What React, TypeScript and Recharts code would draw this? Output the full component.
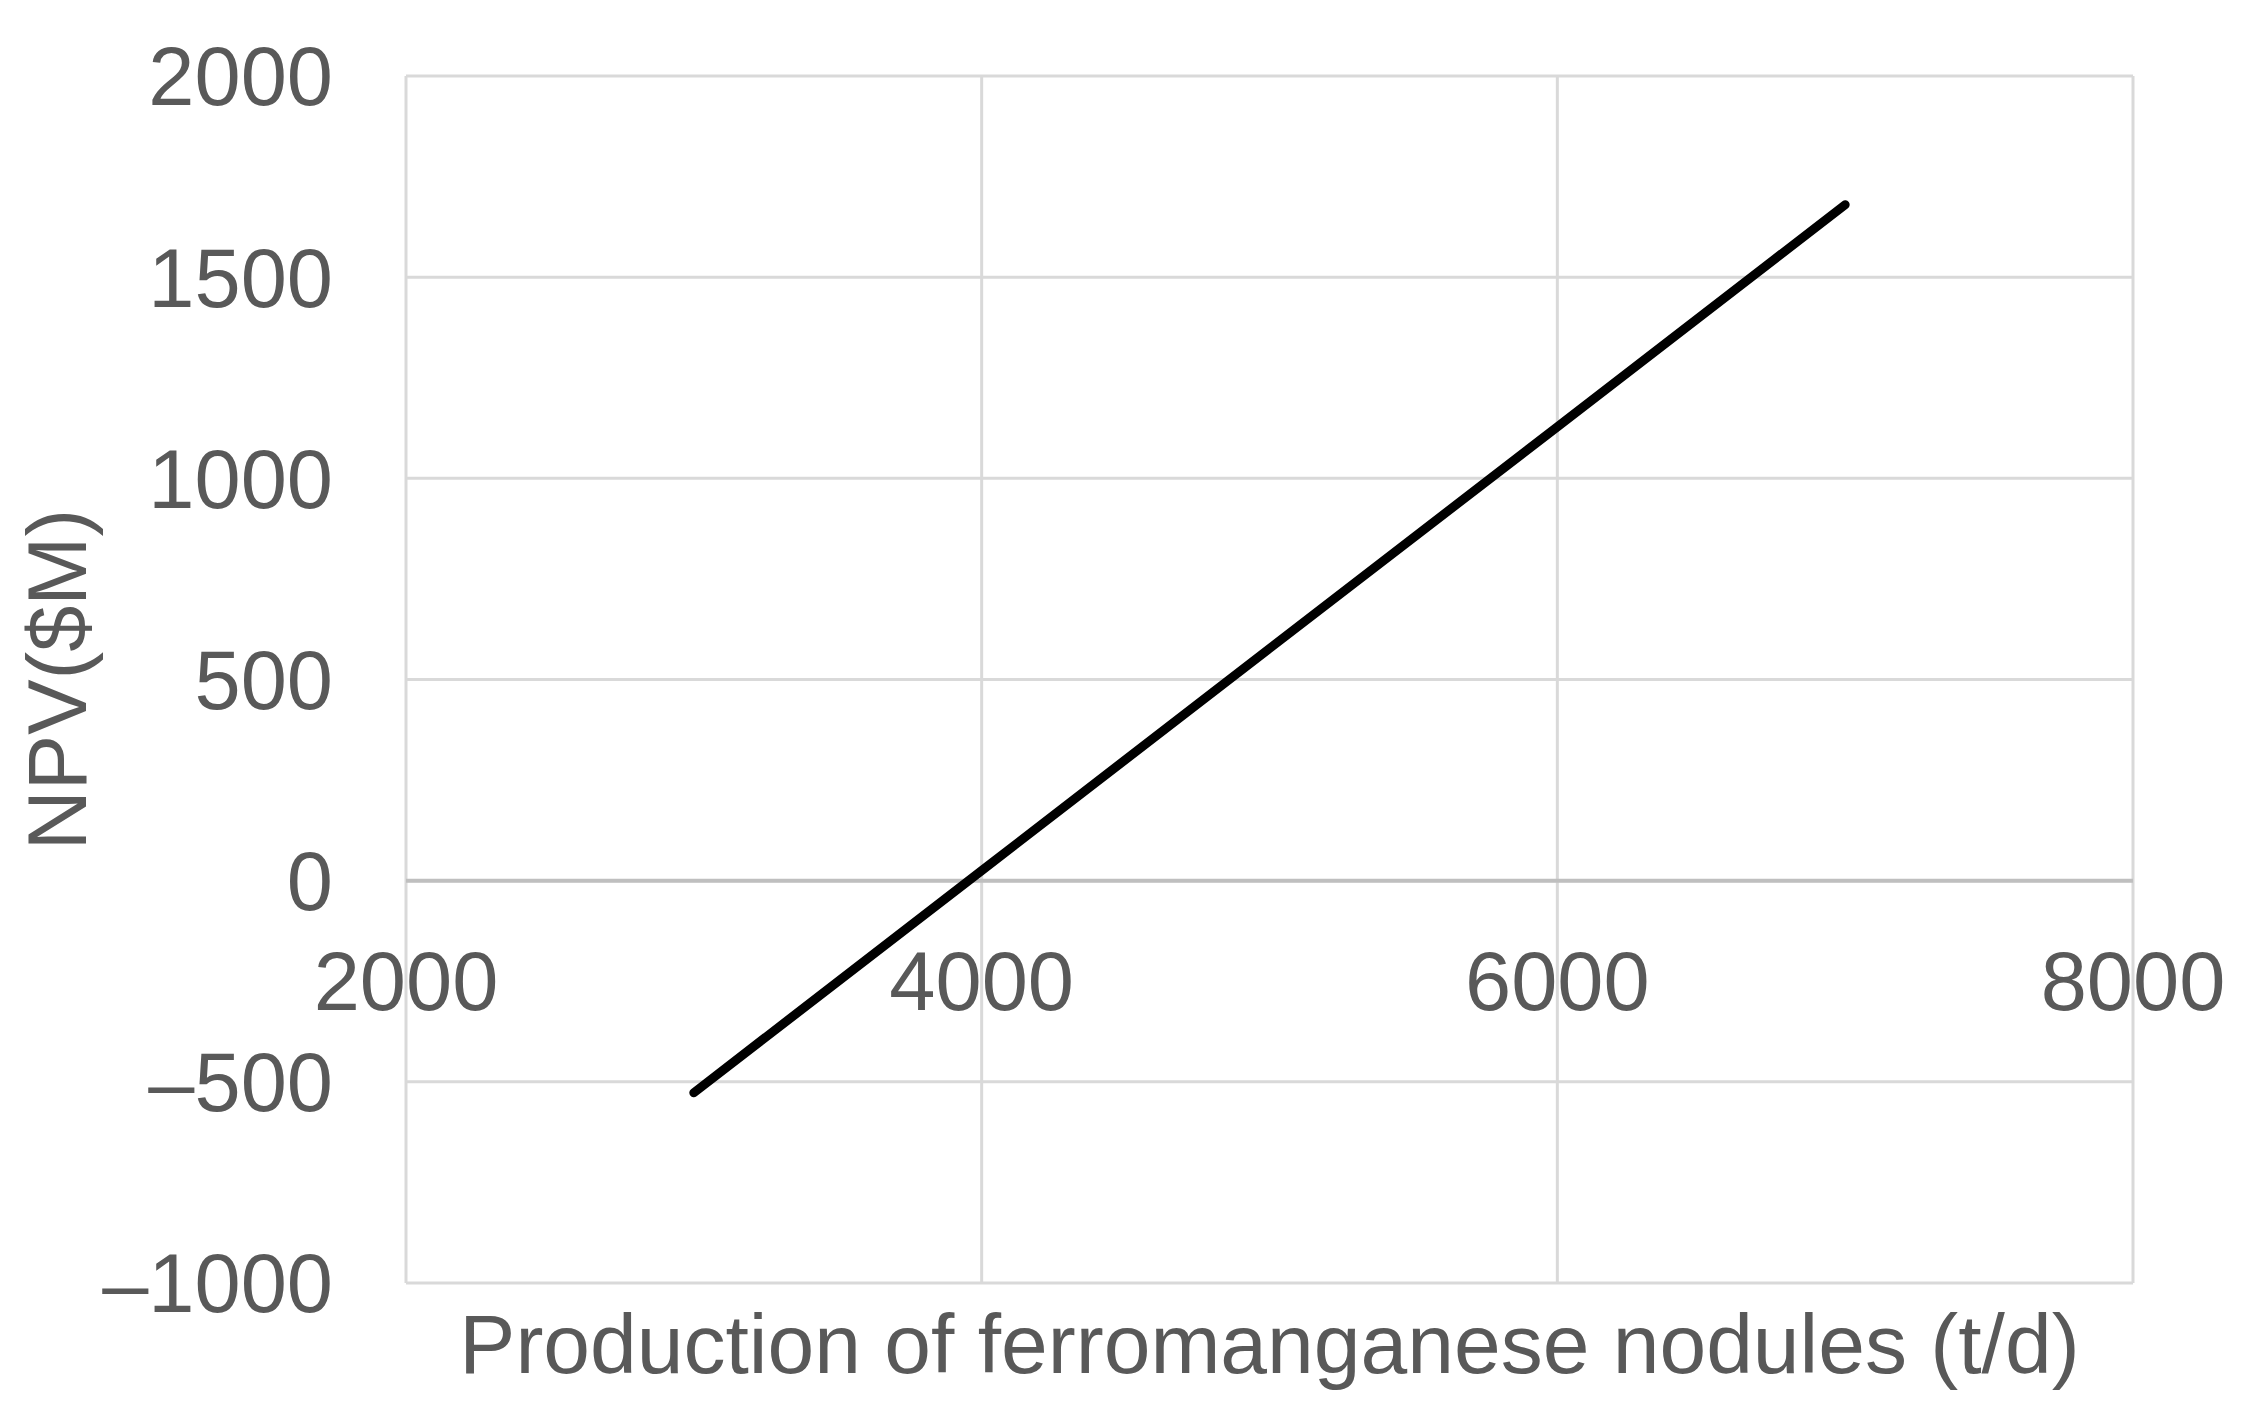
import React from 'react';
import {
  LineChart,
  Line,
  XAxis,
  YAxis,
  CartesianGrid,
  ReferenceLine,
  ReferenceDot,
  Label,
} from 'recharts';

const production = [3000, 4000, 5000, 6000, 7000];
const npv = [-527, 25, 577, 1128, 1680];
const xTicks = [2000, 4000, 6000, 8000];
const yTicks = [-1000, -500, 0, 500, 1000, 1500, 2000];
const xTitle = 'Production of ferromanganese nodules (t/d)';
const yTitle = 'NPV($M)';

const data = production.map((p, i) => ({ production: p, npv: npv[i] }));

const FONT = '"Liberation Sans", Arial, sans-serif';
const TEXT = '#595959';
const FS = 83;
const GRID = '#d9d9d9';

export default function App() {
  return (
    <div style={{ position: 'absolute', left: 0, top: 0, background: '#fff' }}>
      <LineChart
        width={2251}
        height={1419}
        data={data}
        margin={{ top: 76, right: 118, bottom: 0, left: 0 }}
      >
        <CartesianGrid
          stroke={GRID}
          strokeWidth={3}
          vertical={false}
          horizontalValues={yTicks}
        />
        <XAxis
          dataKey="production"
          type="number"
          domain={[2000, 8000]}
          ticks={xTicks}
          height={136}
          axisLine={false}
          tickLine={false}
          tick={false}
        >
          <Label
            content={(props: any) => {
              const vb = props.viewBox || {};
              return (
                <text
                  x={vb.x + vb.width / 2}
                  y={vb.y + 90}
                  textAnchor="middle"
                  fill={TEXT}
                  fontFamily={FONT}
                  fontSize={84}
                >
                  {xTitle}
                </text>
              );
            }}
          />
        </XAxis>
        <YAxis
          type="number"
          domain={[-1000, 2000]}
          ticks={yTicks}
          width={406}
          axisLine={false}
          tickLine={false}
          tickSize={0}
          tickMargin={73}
          interval={0}
          tickFormatter={(v: number) => (v < 0 ? '\u2013' + Math.abs(v) : String(v))}
          tick={{ fill: TEXT, fontFamily: FONT, fontSize: FS }}
        >
          <Label
            content={(props: any) => {
              const vb = props.viewBox || {};
              const cx = 57;
              const cy = vb.y + vb.height / 2;
              return (
                <text
                  x={cx}
                  y={cy}
                  dy="0.355em"
                  textAnchor="middle"
                  transform={`rotate(-90, ${cx}, ${cy})`}
                  fill={TEXT}
                  fontFamily={FONT}
                  fontSize={FS}
                >
                  {yTitle}
                </text>
              );
            }}
          />
        </YAxis>
        {xTicks.map((t) => (
          <ReferenceLine key={'v' + t} x={t} stroke={GRID} strokeWidth={3} ifOverflow="visible" />
        ))}
        <ReferenceLine y={0} stroke="#bfbfbf" strokeWidth={4} />
        {xTicks.map((t) => (
          <ReferenceDot
            key={t}
            x={t}
            y={0}
            r={0}
            ifOverflow="visible"
            shape={(p: any) => (
              <text
                x={p.cx}
                y={p.cy + 129}
                textAnchor="middle"
                fill={TEXT}
                fontFamily={FONT}
                fontSize={FS}
              >
                {t}
              </text>
            )}
          />
        ))}
        <Line
          dataKey="npv"
          type="linear"
          stroke="#000"
          strokeWidth={9}
          strokeLinecap="round"
          dot={false}
          activeDot={false}
          isAnimationActive={false}
        />
      </LineChart>
    </div>
  );
}
